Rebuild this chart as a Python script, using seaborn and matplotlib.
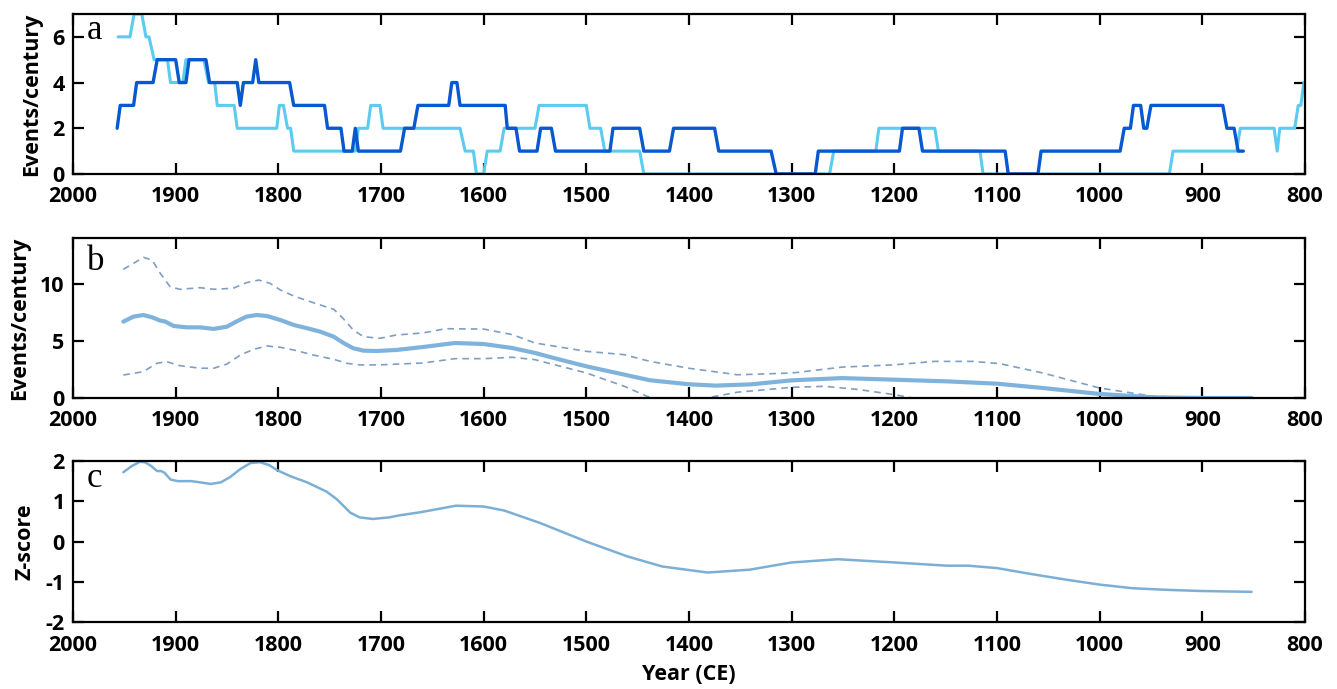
import numpy as np
import pandas as pd
import matplotlib
matplotlib.use("Agg")
import matplotlib.pyplot as plt
import seaborn as sns

# ---------------- panel a: events per century (two records) ----------------
dark_years = [1957, 1954, 1941, 1938, 1922, 1918, 1900, 1896.5, 1890, 1887, 1870.5, 1867,
              1840, 1837, 1834, 1825, 1822, 1819, 1789, 1785, 1755, 1752, 1739, 1736,
              1728, 1725, 1722, 1681, 1677, 1668, 1664, 1634, 1631, 1626, 1623, 1579,
              1577, 1568.5, 1565, 1548, 1544.5, 1534, 1530, 1477, 1474, 1448, 1444, 1419,
              1415, 1375, 1371, 1320, 1315, 1277, 1274, 1195, 1192, 1176, 1172.5, 1092,
              1089, 1060, 1057, 980, 976, 970, 967, 960, 957, 954, 950, 880, 876, 869,
              865, 860]
dark_events = [2, 3, 3, 4, 4, 5, 5, 4, 4, 5, 5, 4,
               4, 3, 4, 4, 5, 4, 4, 3, 3, 2, 2, 1,
               1, 2, 1, 1, 2, 2, 3, 3, 4, 4, 3, 3,
               2, 2, 1, 1, 2, 2, 1, 1, 2, 2, 1, 1,
               2, 2, 1, 1, 0, 0, 1, 1, 2, 2, 1, 1,
               0, 0, 1, 1, 2, 2, 3, 3, 2, 2, 3, 3, 2, 2,
               1, 1]

light_years = [1956, 1944.5, 1940.5, 1933, 1929, 1926, 1921, 1908, 1905, 1893, 1890, 1872.5,
               1868, 1862, 1859.5, 1843, 1840, 1801.5, 1799, 1795, 1791, 1788, 1785, 1725,
               1722, 1713, 1710, 1701, 1698, 1623, 1618, 1610, 1607, 1600, 1596.5, 1584,
               1580, 1550, 1546, 1500, 1496.5, 1486, 1482, 1448, 1444, 1263, 1259, 1218,
               1215, 1160.5, 1157, 1116.5, 1113.5, 932, 928.5, 866.5, 863, 830, 827, 824.5,
               810, 806.5, 804, 801]
light_events = [6, 6, 7, 7, 6, 6, 5, 5, 4, 4, 5, 5,
                4, 4, 3, 3, 2, 2, 3, 3, 2, 2, 1, 1,
                2, 2, 3, 3, 2, 2, 1, 1, 0, 0, 1, 1,
                2, 2, 3, 3, 2, 2, 1, 1, 0, 0, 1, 1,
                2, 2, 1, 1, 0, 0, 1, 1, 2, 2, 1, 2,
                2, 3, 3, 4]

# ---------------- panel b: smoothed rate with bounds ----------------
mean_years = [1951, 1941, 1931.5, 1923, 1915, 1910, 1902, 1889, 1876, 1863, 1850, 1841,
              1831, 1821, 1811, 1798, 1785, 1772, 1759, 1746, 1737, 1727, 1717, 1704,
              1685, 1659, 1628, 1600, 1572, 1550, 1528, 1500, 1463, 1438, 1400, 1374,
              1340, 1300, 1251, 1200, 1148, 1100, 1055, 1000, 948, 900, 852]
mean_rate = [6.68, 7.12, 7.26, 7.06, 6.77, 6.68, 6.3, 6.18, 6.18, 6.04, 6.24, 6.68,
             7.12, 7.26, 7.17, 6.82, 6.39, 6.1, 5.8, 5.36, 4.84, 4.35, 4.14, 4.11,
             4.2, 4.46, 4.81, 4.72, 4.37, 3.94, 3.41, 2.77, 2.04, 1.55, 1.2, 1.08,
             1.19, 1.54, 1.74, 1.6, 1.45, 1.25, 0.87, 0.35, 0.06, 0.0, 0.0]

upper_years = [1951, 1941, 1931.5, 1923, 1915, 1905.5, 1896, 1876, 1863, 1844, 1831, 1819,
               1808, 1798, 1785, 1766, 1746, 1737, 1727, 1717, 1701, 1685, 1659, 1637,
               1600, 1572, 1550, 1500, 1463, 1438, 1400, 1353, 1300, 1251, 1200, 1161,
               1123, 1097, 1055, 1000, 948, 900, 852]
upper_rate = [11.26, 11.78, 12.31, 12.07, 10.91, 9.74, 9.51, 9.65, 9.51, 9.6, 10.09, 10.32,
              10.03, 9.45, 8.92, 8.34, 7.76, 6.97, 5.95, 5.36, 5.22, 5.51, 5.69, 6.06,
              6.03, 5.54, 4.81, 4.08, 3.79, 3.2, 2.6, 2.03, 2.18, 2.7, 2.9, 3.2,
              3.2, 3.0, 2.18, 0.87, 0.15, 0.0, 0.0]

lower_years = [1951, 1931.5, 1918.5, 1909, 1896, 1876, 1863, 1850, 1837, 1824, 1811, 1798,
               1785, 1766, 1746, 1733, 1720, 1700, 1659, 1628, 1600, 1572, 1550, 1500,
               1463, 1441, 1420, 1400, 1380, 1353, 1300, 1268, 1234, 1200, 1182, 1150,
               1100, 1050, 1000, 950, 900, 852]
lower_rate = [2.01, 2.3, 3.03, 3.18, 2.83, 2.6, 2.6, 2.97, 3.76, 4.26, 4.55, 4.43,
              4.2, 3.76, 3.38, 3.03, 2.89, 2.9, 3.06, 3.44, 3.44, 3.56, 3.35, 2.19,
              1.02, 0.15, -0.3, -0.25, 0.05, 0.5, 0.93, 1.02, 0.73, 0.29, 0.0, -0.4,
              -0.6, -0.5, -0.2, -0.05, 0.0, 0.0]

# ---------------- panel c: z-score ----------------
z_years = [1951, 1943, 1935, 1930, 1924, 1918, 1914, 1911, 1905, 1898, 1885, 1876,
           1866, 1856, 1847, 1837, 1827, 1818, 1809, 1801, 1788, 1772, 1753, 1743,
           1730, 1721, 1708, 1692, 1682, 1661, 1627, 1600, 1580, 1545, 1500, 1460,
           1426, 1382, 1341, 1300, 1255, 1200, 1149, 1128, 1100, 1066, 1032, 1000,
           968, 935, 900, 852]
z_score = [1.72, 1.87, 1.98, 1.97, 1.88, 1.75, 1.75, 1.71, 1.54, 1.5, 1.5, 1.47,
           1.43, 1.47, 1.6, 1.8, 1.95, 1.97, 1.9, 1.77, 1.62, 1.47, 1.24, 1.05,
           0.72, 0.6, 0.56, 0.6, 0.65, 0.73, 0.89, 0.87, 0.77, 0.46, 0.0, -0.37,
           -0.62, -0.77, -0.7, -0.52, -0.44, -0.52, -0.6, -0.6, -0.66, -0.81, -0.95, -1.07,
           -1.16, -1.2, -1.23, -1.25]

year_ticks = list(range(2000, 799, -100))

sns.set_style("ticks")
plt.rcParams['font.family'] = ['Open Sans', 'DejaVu Sans']
plt.rcParams['font.weight'] = 'bold'
plt.rcParams['axes.labelweight'] = 'bold'
plt.rcParams['axes.linewidth'] = 1.6
plt.rcParams['axes.edgecolor'] = 'black'
plt.rcParams['axes.labelcolor'] = 'black'
plt.rcParams['text.color'] = 'black'
plt.rcParams['axes.unicode_minus'] = False

FS = 15.5

fig = plt.figure(figsize=(13.37, 6.89), dpi=100)
left, width = 0.0546, 0.9214
ax_a = fig.add_axes([left, 0.7475, width, 0.2322])
ax_b = fig.add_axes([left, 0.4224, width, 0.2322])
ax_c = fig.add_axes([left, 0.0972, width, 0.2337])

# panel a
sns.lineplot(x=light_years, y=light_events, ax=ax_a, sort=False, estimator=None,
             color='#5ccbf0', lw=2.2)
sns.lineplot(x=dark_years, y=dark_events, ax=ax_a, sort=False, estimator=None,
             color='#0858d0', lw=2.4)
ax_a.set_ylim(0, 7)
ax_a.set_yticks([0, 2, 4, 6])
ax_a.set_ylabel('Events/century', labelpad=7)

# panel b
band = '#7f9fc2'
sns.lineplot(x=upper_years, y=upper_rate, ax=ax_b, sort=False, estimator=None,
             color=band, lw=1.2, linestyle=(0, (4, 3)))
sns.lineplot(x=lower_years, y=lower_rate, ax=ax_b, sort=False, estimator=None,
             color=band, lw=1.2, linestyle=(0, (4, 3)))
sns.lineplot(x=mean_years, y=mean_rate, ax=ax_b, sort=False, estimator=None,
             color='#80b3dc', lw=3.0)
ax_b.set_ylim(0, 14)
ax_b.set_yticks([0, 5, 10])
ax_b.set_ylabel('Events/century', labelpad=7)

# panel c
sns.lineplot(x=z_years, y=z_score, ax=ax_c, sort=False, estimator=None,
             color='#7cafd6', lw=1.8)
ax_c.set_ylim(-2, 2)
ax_c.set_yticks([-2, -1, 0, 1, 2])
ax_c.set_ylabel('Z-score', labelpad=7)
ax_c.set_xlabel('Year (CE)', labelpad=6)

letters = {ax_a: ('a', 0.845), ax_b: ('b', 0.80), ax_c: ('c', 0.84)}
for ax in (ax_a, ax_b, ax_c):
    ax.set_xlim(2000, 800)
    ax.set_xticks(year_ticks)
    ax.tick_params(direction='in', length=8, width=1.6, top=True, right=True,
                   labelsize=FS, colors='black')
    ax.tick_params(axis='x', pad=9)
    ax.tick_params(axis='y', pad=6)
    for lab in ax.get_xticklabels() + ax.get_yticklabels():
        lab.set_fontweight('bold')
    ax.yaxis.label.set_size(FS)
    ax.xaxis.label.set_size(FS)
    for sp in ax.spines.values():
        sp.set_visible(True)
    txt, yy = letters[ax]
    ax.text(0.011, yy, txt, transform=ax.transAxes, family='Liberation Serif',
            fontsize=25, fontweight='normal', va='baseline', ha='left')

fig.savefig('out.png', dpi=100)
